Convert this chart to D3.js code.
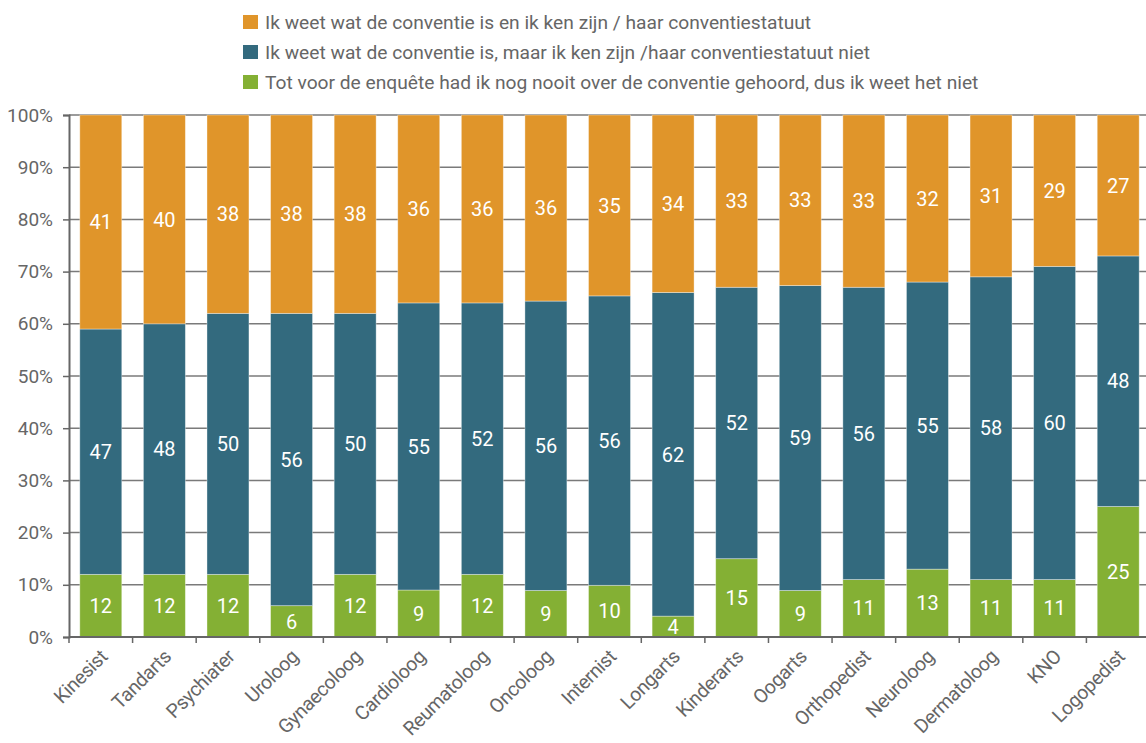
<!DOCTYPE html>
<html>
<head>
<meta charset="utf-8">
<script src="https://cdn.jsdelivr.net/npm/d3@7"></script>
<style>
  html, body { margin: 0; padding: 0; background: #fff; }
  svg text { font-family: "Roboto", "Liberation Sans", sans-serif; }
</style>
</head>
<body>
<svg id="chart" width="1146" height="743"></svg>
<script>
// Beroepsgroepen (categories)
const categories = ["Kinesist", "Tandarts", "Psychiater", "Uroloog", "Gynaecoloog", "Cardioloog",
  "Reumatoloog", "Oncoloog", "Internist", "Longarts", "Kinderarts", "Oogarts", "Orthopedist",
  "Neuroloog", "Dermatoloog", "KNO", "Logopedist"];

// Percentages per answer
const nooitGehoord = [12, 12, 12, 6, 12, 9, 12, 9, 10, 4, 15, 9, 11, 13, 11, 11, 25];
const kenStatuutNiet = [47, 48, 50, 56, 50, 55, 52, 56, 56, 62, 52, 59, 56, 55, 58, 60, 48];
const kenStatuut = [41, 40, 38, 38, 38, 36, 36, 36, 35, 34, 33, 33, 33, 32, 31, 29, 27];

const seriesNames = [
  "Ik weet wat de conventie is en ik ken zijn / haar conventiestatuut",
  "Ik weet wat de conventie is, maar ik ken zijn /haar conventiestatuut niet",
  "Tot voor de enquête had ik nog nooit over de conventie gehoord, dus ik weet het niet"
];
const yTicks = [0, 0.1, 0.2, 0.3, 0.4, 0.5, 0.6, 0.7, 0.8, 0.9, 1];

const keys = ["nooit", "niet", "ken"];
const colors = { ken: "#E0952A", niet: "#336A7E", nooit: "#84B034" };
const legendKeys = ["ken", "niet", "nooit"];

const rows = categories.map((c, i) => ({
  cat: c, nooit: nooitGehoord[i], niet: kenStatuutNiet[i], ken: kenStatuut[i]
}));

const svg = d3.select("#chart");
const textColor = "#666";

const x = d3.scaleBand().domain(categories).range([69, 1150])
  .paddingInner(0.34).paddingOuter(0.17);
const y = d3.scaleLinear().domain([0, 1]).range([637, 115]);

// Gridlines
svg.append("g").selectAll("line").data(yTicks.slice(1)).join("line")
  .attr("x1", 69).attr("x2", 1146)
  .attr("y1", d => y(d)).attr("y2", d => y(d))
  .attr("stroke", "#7a7a7a").attr("stroke-width", 1.5);

// Stacked bars (normalised to 100%)
const stack = d3.stack().keys(keys).offset(d3.stackOffsetExpand);
const layers = stack(rows);

const layerG = svg.append("g").selectAll("g").data(layers).join("g")
  .attr("fill", d => colors[d.key]);

layerG.selectAll("rect").data(d => d).join("rect")
  .attr("x", d => x(d.data.cat))
  .attr("width", x.bandwidth())
  .attr("y", d => y(d[1]))
  .attr("height", d => y(d[0]) - y(d[1]))
  .attr("stroke", "rgba(255,255,255,0.45)")
  .attr("stroke-width", 0.8);

// Value labels
layers.forEach(layer => {
  svg.append("g").selectAll("text").data(layer).join("text")
    .attr("x", d => x(d.data.cat) + x.bandwidth() / 2)
    .attr("y", d => (y(d[0]) + y(d[1])) / 2)
    .attr("dy", "0.36em")
    .attr("text-anchor", "middle")
    .attr("fill", "#fff")
    .attr("font-size", 20)
    .text(d => d.data[layer.key]);
});

// Y axis
const yAxis = d3.axisLeft(y).tickValues(yTicks).tickFormat(d3.format(".0%"))
  .tickSize(6).tickPadding(10);
const yg = svg.append("g").attr("transform", "translate(69,0)").call(yAxis);
yg.select(".domain").attr("stroke", "#666").attr("stroke-width", 2);
yg.selectAll(".tick line").attr("stroke", "#666").attr("stroke-width", 1.5);
yg.selectAll(".tick text").attr("fill", textColor).attr("font-size", 19)
  .style("font-family", "Roboto, sans-serif");

// X axis baseline with ticks at category boundaries
svg.append("line").attr("x1", 69).attr("x2", 1146).attr("y1", 637).attr("y2", 637)
  .attr("stroke", "#666").attr("stroke-width", 2);
const bounds = categories.map(c => x(c) - x.step() * x.paddingInner() / 2);
svg.append("g").selectAll("line").data(bounds).join("line")
  .attr("x1", d => d).attr("x2", d => d).attr("y1", 637).attr("y2", 643)
  .attr("stroke", "#666").attr("stroke-width", 1.5);

// Category labels, rotated
svg.append("g").selectAll("text").data(categories).join("text")
  .attr("transform", d => `translate(${x(d) + x.bandwidth() / 2 + 1},${651}) rotate(-45)`)
  .attr("text-anchor", "end")
  .attr("dy", "0.5em")
  .attr("fill", textColor)
  .attr("font-size", 19.5)
  .attr("letter-spacing", -0.4)
  .text(d => d);

// Legend
const legend = svg.append("g").selectAll("g").data(legendKeys).join("g")
  .attr("transform", (d, i) => `translate(243,${22 + i * 30})`);
legend.append("rect").attr("x", 0).attr("y", -7).attr("width", 15).attr("height", 14)
  .attr("fill", d => colors[d]);
legend.append("text").attr("x", 22).attr("dy", "0.36em")
  .attr("fill", textColor).attr("font-size", 19.2)
  .text((d, i) => seriesNames[i]);
</script>
</body>
</html>
